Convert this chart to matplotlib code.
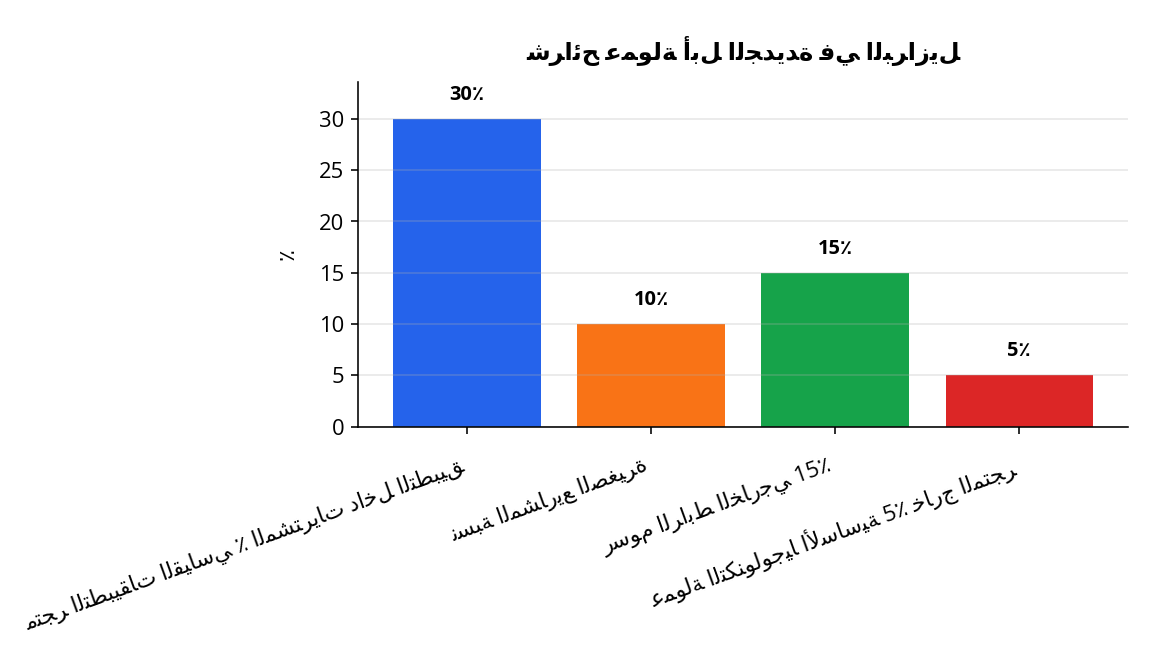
import matplotlib
matplotlib.use("Agg")
import matplotlib.pyplot as plt

plt.rcParams['font.family'] = ['Open Sans', 'DejaVu Sans']

title = "شرائح عمولة أبل الجديدة في البرازيل"
categories = [
    "متجر التطبيقات القياسي ٪ المشتريات داخل التطبيق",
    "نسبة المشاريع الصغيرة",
    "رسوم الرابط الخارجي 15٪",
    "عمولة التكنولوجيا الأساسية 5٪ خارج المتجر",
]
values = [30, 10, 15, 5]
colors = ["#2563eb", "#f97316", "#16a34a", "#dc2626"]
ylabel = "٪"

# presentation-form base code point and whether the letter joins to the next one
JOIN = {
    'ا': (0xFE8D, False), 'أ': (0xFE83, False), 'ب': (0xFE8F, True), 'ة': (0xFE93, False),
    'ت': (0xFE95, True), 'ج': (0xFE9D, True), 'ح': (0xFEA1, True), 'خ': (0xFEA5, True),
    'د': (0xFEA9, False), 'ر': (0xFEAD, False), 'ز': (0xFEAF, False), 'س': (0xFEB1, True),
    'ش': (0xFEB5, True), 'ص': (0xFEB9, True), 'ط': (0xFEC1, True), 'ع': (0xFEC9, True),
    'غ': (0xFECD, True), 'ف': (0xFED1, True), 'ق': (0xFED5, True), 'ك': (0xFED9, True),
    'ل': (0xFEDD, True), 'م': (0xFEE1, True), 'ن': (0xFEE5, True), 'ه': (0xFEE9, True),
    'و': (0xFEED, False), 'ي': (0xFEF1, True), 'ئ': (0xFE89, True),
}
LAM_ALEF = {'ا': 0xFEFB, 'أ': 0xFEF7}


def shape(text):
    # contextual forms only, characters stay in logical order
    out = []
    i = 0
    while i < len(text):
        c = text[i]
        if c not in JOIN:
            out.append(c)
            i += 1
            continue
        prev = text[i - 1] if i > 0 else ''
        joins_prev = prev in JOIN and JOIN[prev][1]
        nxt = text[i + 1] if i + 1 < len(text) else ''
        if c == 'ل' and nxt in LAM_ALEF:
            out.append(chr(LAM_ALEF[nxt] + int(joins_prev)))
            i += 2
            continue
        base, dual = JOIN[c]
        joins_next = dual and nxt in JOIN
        if joins_prev and joins_next:
            form = 3
        elif joins_prev:
            form = 1
        elif joins_next:
            form = 2
        else:
            form = 0
        out.append(chr(base + form))
        i += 1
    return ''.join(out)


fig, ax = plt.subplots(figsize=(8, 4.667), dpi=144)
fig.subplots_adjust(left=0.311, right=0.979, top=0.878, bottom=0.365)

x = range(len(categories))
bars = ax.bar(x, values, width=0.8, color=colors)
ax.set_ylim(0, max(values) * 1.12)

for b, v in zip(bars, values):
    ax.annotate(f"{v}٪", (b.get_x() + b.get_width() / 2, v), xytext=(0, 7),
                textcoords="offset points", ha="center", va="bottom",
                fontsize=10, fontweight="bold")

ax.set_xticks(list(x))
ax.set_xticklabels([shape(c) for c in categories], rotation=20, ha="right", fontsize=11)
ax.tick_params(axis='x', pad=10)
ax.tick_params(axis='y', labelsize=11)
ax.set_ylabel(ylabel, fontsize=11, labelpad=10)
ax.set_title(shape(title), fontsize=12, fontweight="bold", pad=11)

ax.grid(axis='y', alpha=0.3, linewidth=0.8)
ax.spines['top'].set_visible(False)
ax.spines['right'].set_visible(False)

plt.savefig("out.png", dpi=144)
